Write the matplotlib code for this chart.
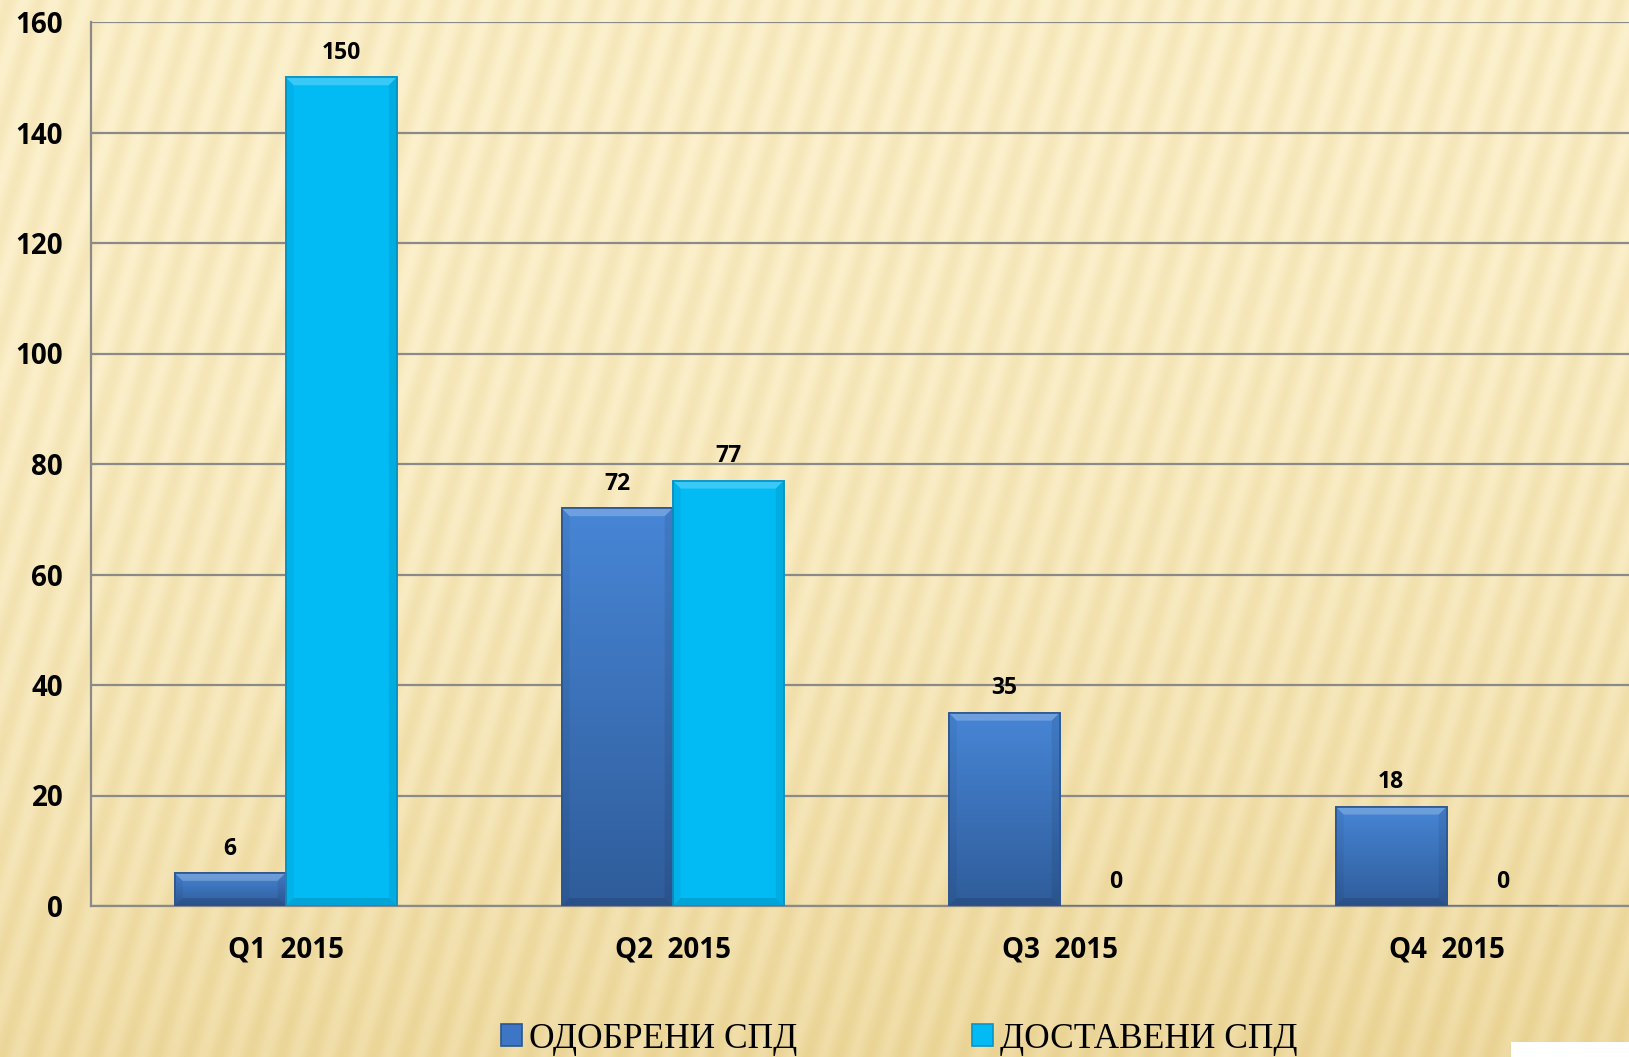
import numpy as np
import matplotlib.pyplot as plt
from matplotlib.patches import Rectangle, Polygon
from matplotlib.colors import LinearSegmentedColormap

# data
categories = ['Q1  2015', 'Q2  2015', 'Q3  2015', 'Q4  2015']
odobreni = [6, 72, 35, 18]
dostaveni = [150, 77, 0, 0]
series_names = ['ОДОБРЕНИ СПД', 'ДОСТАВЕНИ СПД']
yticks = [0, 20, 40, 60, 80, 100, 120, 140, 160]

W, H = 1629, 1057
fig = plt.figure(figsize=(W / 100, H / 100), dpi=100)

# striped golden background
bg = fig.add_axes([0, 0, 1, 1], zorder=-10)
xx, yy = np.meshgrid(np.arange(W), np.arange(H))
stripe = 0.5 + 0.5 * np.sin(2 * np.pi * (xx + 0.3 * yy) / 31.0)
light = np.array([252, 241, 205]) / 255
dark = np.array([232, 208, 142]) / 255
t = 0.28 * stripe + 0.55 * (yy / H) ** 2.2 + 0.12 * (xx / W) * (yy / H)
t = np.clip(t, 0, 1)[..., None]
img = light * (1 - t) + dark * t
bg.imshow(img, aspect='auto', extent=[0, 1, 0, 1], origin='upper')
bg.set_axis_off()

ax = fig.add_axes([91 / W, 151 / H, 1 - 91 / W, (906 - 22) / H])
ax.patch.set_alpha(0)
ax.set_ylim(0, 160)
ax.set_xlim(-0.503, 3.471)

x = np.arange(len(categories))
w = 0.287
b1 = ax.bar(x - w / 2, odobreni, w, color='#3C76C4', edgecolor='#2B5590', linewidth=1.2, zorder=3)
b2 = ax.bar(x + w / 2, dostaveni, w, color='#02BBF5', edgecolor='#0A94C4', linewidth=1.2, zorder=3)

# vertical gradient on dark bars
blue_cmap = LinearSegmentedColormap.from_list('b', ['#2F5C9A', '#4786D6'])
grad = np.linspace(0, 1, 256)[:, None]
for r in b1:
    im = ax.imshow(grad, cmap=blue_cmap, origin='lower', aspect='auto', zorder=3.1,
                   extent=[r.get_x(), r.get_x() + r.get_width(), 0, r.get_height()])
    im.set_clip_path(r)

# bevel edges
px_x = (3.471 + 0.503) / (W - 91)
px_y = 160 / (906 - 22)
bev = 8
for bars in (b1, b2):
    for r in bars:
        x0, x1, h = r.get_x(), r.get_x() + r.get_width(), r.get_height()
        if h <= 0:
            continue
        dx, dy = bev * px_x, min(bev * px_y, h / 2)
        top = [(x0, h), (x1, h), (x1 - dx, h - dy), (x0 + dx, h - dy)]
        bot = [(x0, 0), (x1, 0), (x1 - dx, dy), (x0 + dx, dy)]
        left = [(x0, 0), (x0, h), (x0 + dx, h - dy), (x0 + dx, dy)]
        right = [(x1, 0), (x1, h), (x1 - dx, h - dy), (x1 - dx, dy)]
        ax.add_patch(Polygon(top, closed=True, facecolor='white', alpha=0.22, lw=0, zorder=3.2))
        ax.add_patch(Polygon(bot, closed=True, facecolor='black', alpha=0.12, lw=0, zorder=3.2))
        ax.add_patch(Polygon(left, closed=True, facecolor='black', alpha=0.05, lw=0, zorder=3.2))
        ax.add_patch(Polygon(right, closed=True, facecolor='black', alpha=0.08, lw=0, zorder=3.2))
        ax.add_patch(Rectangle((x0, 0), x1 - x0, h, facecolor='none',
                               edgecolor=r.get_edgecolor(), lw=1.2, zorder=3.3))

for bars, vals in [(b1, odobreni), (b2, dostaveni)]:
    for r, v in zip(bars, vals):
        ax.annotate(str(v), (r.get_x() + r.get_width() / 2, v), xytext=(0, 17.5),
                    textcoords='offset points', ha='center', va='center',
                    fontsize=16.5, fontweight='bold', family='Open Sans', zorder=5)

ax.set_yticks(yticks)
ax.set_xticks(x)
ax.set_xticklabels(categories)
ax.yaxis.grid(True, color='#8A8A8A', linewidth=1.6, zorder=1)
ax.set_axisbelow(True)
for s in ['top', 'right']:
    ax.spines[s].set_visible(False)
ax.spines['left'].set_color('#8A8A8A')
ax.spines['left'].set_linewidth(1.6)
ax.spines['bottom'].set_color('#8A8A8A')
ax.spines['bottom'].set_linewidth(1.6)
ax.tick_params(axis='both', length=0)
ax.tick_params(axis='y', pad=20)
ax.tick_params(axis='x', pad=21)
for lab in ax.get_yticklabels():
    lab.set_fontsize(20)
    lab.set_fontweight('bold')
    lab.set_family('Open Sans')
for lab in ax.get_xticklabels():
    lab.set_fontsize(20)
    lab.set_fontweight('bold')
    lab.set_family('Open Sans')

leg = fig.legend([b1, b2], series_names, loc='center', bbox_to_anchor=(0.552, 0.017),
                 ncol=2, frameon=False, handlelength=0.58, handleheight=0.58,
                 handletextpad=0.2, columnspacing=4.95, borderpad=0,
                 prop={'family': 'Liberation Serif', 'size': 25.5})

# white corner patch
fig.patches.append(Rectangle((1511 / W, 0), 1 - 1511 / W, 15 / H, transform=fig.transFigure,
                             facecolor='white', edgecolor='none', zorder=20))

fig.savefig('out.png', dpi=100)
